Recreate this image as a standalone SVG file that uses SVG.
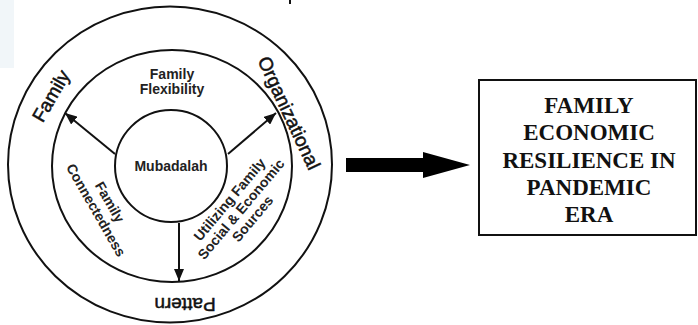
<svg xmlns="http://www.w3.org/2000/svg" width="698" height="325" viewBox="0 0 698 325">
<defs>
<style>
.ring{fill:none;stroke:#111;stroke-width:2}
.lbl{font-family:"Liberation Sans",Arial,sans-serif;font-size:19px;fill:#111;stroke:#111;stroke-width:0.5;text-anchor:middle;dominant-baseline:central}
.in{font-family:"Liberation Sans",Arial,sans-serif;font-size:14px;font-weight:bold;fill:#222;text-anchor:middle}
.inc{dominant-baseline:central}
.out{font-family:"Liberation Serif","Times New Roman",serif;font-size:23px;font-weight:bold;fill:#111;text-anchor:middle}
.conn{stroke:#111;stroke-width:2;fill:none}
</style>
<marker id="ah" viewBox="0 0 12 10" refX="12" refY="5" markerWidth="12" markerHeight="10" markerUnits="userSpaceOnUse" orient="auto">
<path d="M0,0 L12,5 L0,10 Z" fill="#111"/>
</marker>
</defs>
<rect x="0" y="0" width="14" height="68" fill="#f1f6f9"/>
<line x1="290" y1="0" x2="290" y2="4" stroke="#111" stroke-width="2"/>
<g id="outer-ring">
<ellipse class="ring" cx="170" cy="164.5" rx="162" ry="158"/>
<text class="lbl" transform="translate(51,96) rotate(-60)">Family</text>
<text class="lbl" transform="translate(289,113) rotate(65)">Organizational</text>
<text class="lbl" transform="translate(185,304) rotate(180)">Pattern</text>
</g>
<g id="middle-ring">
<ellipse class="ring" cx="172" cy="166" rx="120" ry="116"/>
<text class="in" x="172" y="79">Family</text>
<text class="in" x="172" y="94">Flexibility</text>
<g transform="translate(103,206) rotate(60)">
<text class="in inc" x="0" y="-8">Family</text>
<text class="in inc" x="0" y="8">Connectedness</text>
</g>
<g transform="translate(241,209) rotate(-50)">
<text class="in inc" x="0" y="-15">Utilizing Family</text>
<text class="in inc" x="0" y="0">Social &amp; Economic</text>
<text class="in inc" x="0" y="15">Sources</text>
</g>
</g>
<g id="mubadalah">
<circle class="ring" cx="171" cy="166" r="56"/>
<text class="in" x="171" y="171">Mubadalah</text>
</g>
<g id="connectors">
<line class="conn" x1="115" y1="154" x2="65" y2="113" marker-end="url(#ah)"/>
<line class="conn" x1="228" y1="154" x2="276" y2="113" marker-end="url(#ah)"/>
<line class="conn" x1="179" y1="223" x2="179" y2="281" marker-end="url(#ah)"/>
<polygon points="346,158 423,158 423,152 470,165 423,178 423,172 346,172" fill="#000"/>
</g>
<g id="result">
<rect x="479" y="80" width="217" height="155" fill="#fff" stroke="#111" stroke-width="2"/>
<text class="out" x="589" y="113">FAMILY</text>
<text class="out" x="589" y="140">ECONOMIC</text>
<text class="out" x="589" y="167.5">RESILIENCE IN</text>
<text class="out" x="589" y="195">PANDEMIC</text>
<text class="out" x="589" y="222">ERA</text>
</g>
</svg>
